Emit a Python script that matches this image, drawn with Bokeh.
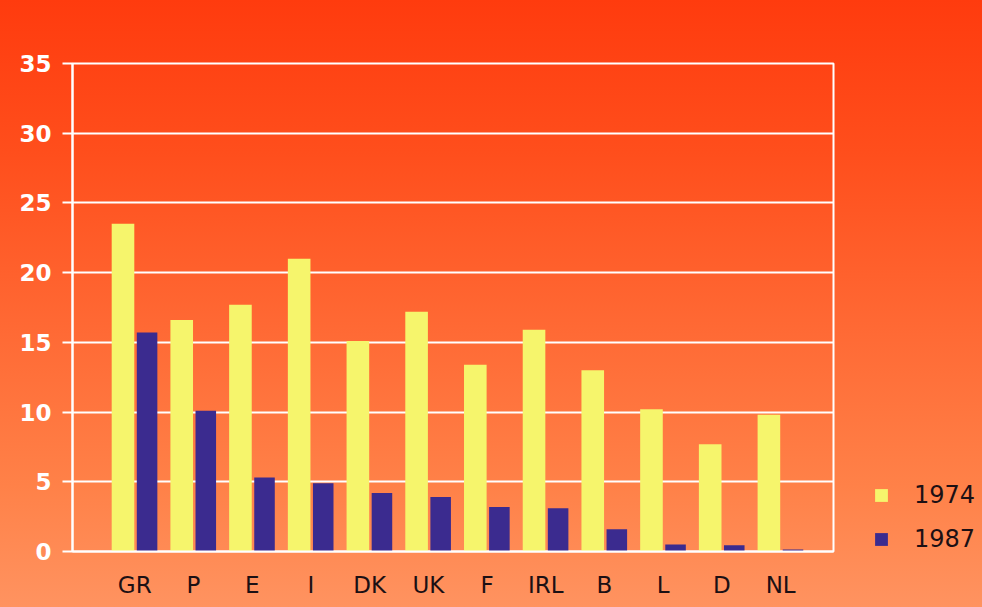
import numpy as np
from bokeh.plotting import figure
from bokeh.models import Range1d, FixedTicker, Legend, LegendItem, ColumnDataSource
from bokeh.embed import file_html
from bokeh.resources import INLINE

countries = ["GR", "P", "E", "I", "DK", "UK", "F", "IRL", "B", "L", "D", "NL"]
v1974 = [23.5, 16.6, 17.7, 21.0, 15.1, 17.2, 13.4, 15.9, 13.0, 10.2, 7.7, 9.8]
v1987 = [15.7, 10.1, 5.3, 4.9, 4.2, 3.9, 3.2, 3.1, 1.6, 0.5, 0.45, 0.15]
y_ticks = [0, 5, 10, 15, 20, 25, 30, 35]
series_labels = ["1974", "1987"]

x = np.arange(len(countries))
src = ColumnDataSource(dict(xa=x - 0.2, xb=x + 0.21, a=v1974, b=v1987))

p = figure(frame_width=761, frame_height=488, output_backend="svg", toolbar_location=None,
           x_range=Range1d(-1.06, 11.9), y_range=Range1d(0, 35),
           min_border_left=72, min_border_right=149, min_border_top=63, min_border_bottom=56)

p.styles = {"background": "linear-gradient(180deg, #ff3b0e 0%, #ff4e1c 25%, #ff6a35 55%, #ff8148 80%, #ff9360 100%)"}
p.border_fill_alpha = 0
p.background_fill_alpha = 0
p.outline_line_color = "white"
p.outline_line_width = 2

r1 = p.vbar(x="xa", top="a", bottom=0, width=0.385, source=src,
            fill_color="#f6f56c", line_color=None)
r2 = p.vbar(x="xb", top="b", bottom=0, width=0.35, source=src,
            fill_color="#3b2b8f", line_color=None)

p.xgrid.grid_line_color = None
p.ygrid.grid_line_color = "white"
p.ygrid.grid_line_width = 2
p.ygrid.ticker = FixedTicker(ticks=y_ticks)

p.yaxis.ticker = FixedTicker(ticks=y_ticks)
p.yaxis.axis_line_color = "white"
p.yaxis.axis_line_width = 2
p.yaxis.major_tick_line_color = "white"
p.yaxis.major_tick_line_width = 2
p.yaxis.major_tick_out = 10
p.yaxis.major_tick_in = 0
p.yaxis.minor_tick_line_color = None
p.yaxis.major_label_text_color = "white"
p.yaxis.major_label_text_font = "DejaVu Sans"
p.yaxis.major_label_text_font_style = "bold"
p.yaxis.major_label_text_font_size = "23px"
p.yaxis.major_label_standoff = 11

p.xaxis.ticker = FixedTicker(ticks=list(x))
p.xaxis.major_label_overrides = {int(i): c for i, c in zip(x, countries)}
p.xaxis.axis_line_color = "white"
p.xaxis.axis_line_width = 2
p.xaxis.major_tick_line_color = None
p.xaxis.minor_tick_line_color = None
p.xaxis.major_tick_out = 0
p.xaxis.major_tick_in = 0
p.xaxis.major_label_text_color = "#1c1014"
p.xaxis.major_label_text_font = "DejaVu Sans"
p.xaxis.major_label_text_font_size = "23px"
p.xaxis.major_label_standoff = 20

legend = Legend(items=[LegendItem(label=series_labels[0], renderers=[r1]),
                       LegendItem(label=series_labels[1], renderers=[r2])],
                location=(40, -3))
legend.border_line_alpha = 0
legend.background_fill_alpha = 0
legend.label_text_font = "DejaVu Sans"
legend.label_text_font_size = "24px"
legend.label_text_color = "#1c1014"
legend.glyph_width = 16
legend.glyph_height = 16
legend.label_height = 30
legend.label_standoff = 25
legend.spacing = 14
legend.padding = 0
legend.margin = 0
p.add_layout(legend, "right")

open("out.html", "w").write(file_html(p, INLINE))
